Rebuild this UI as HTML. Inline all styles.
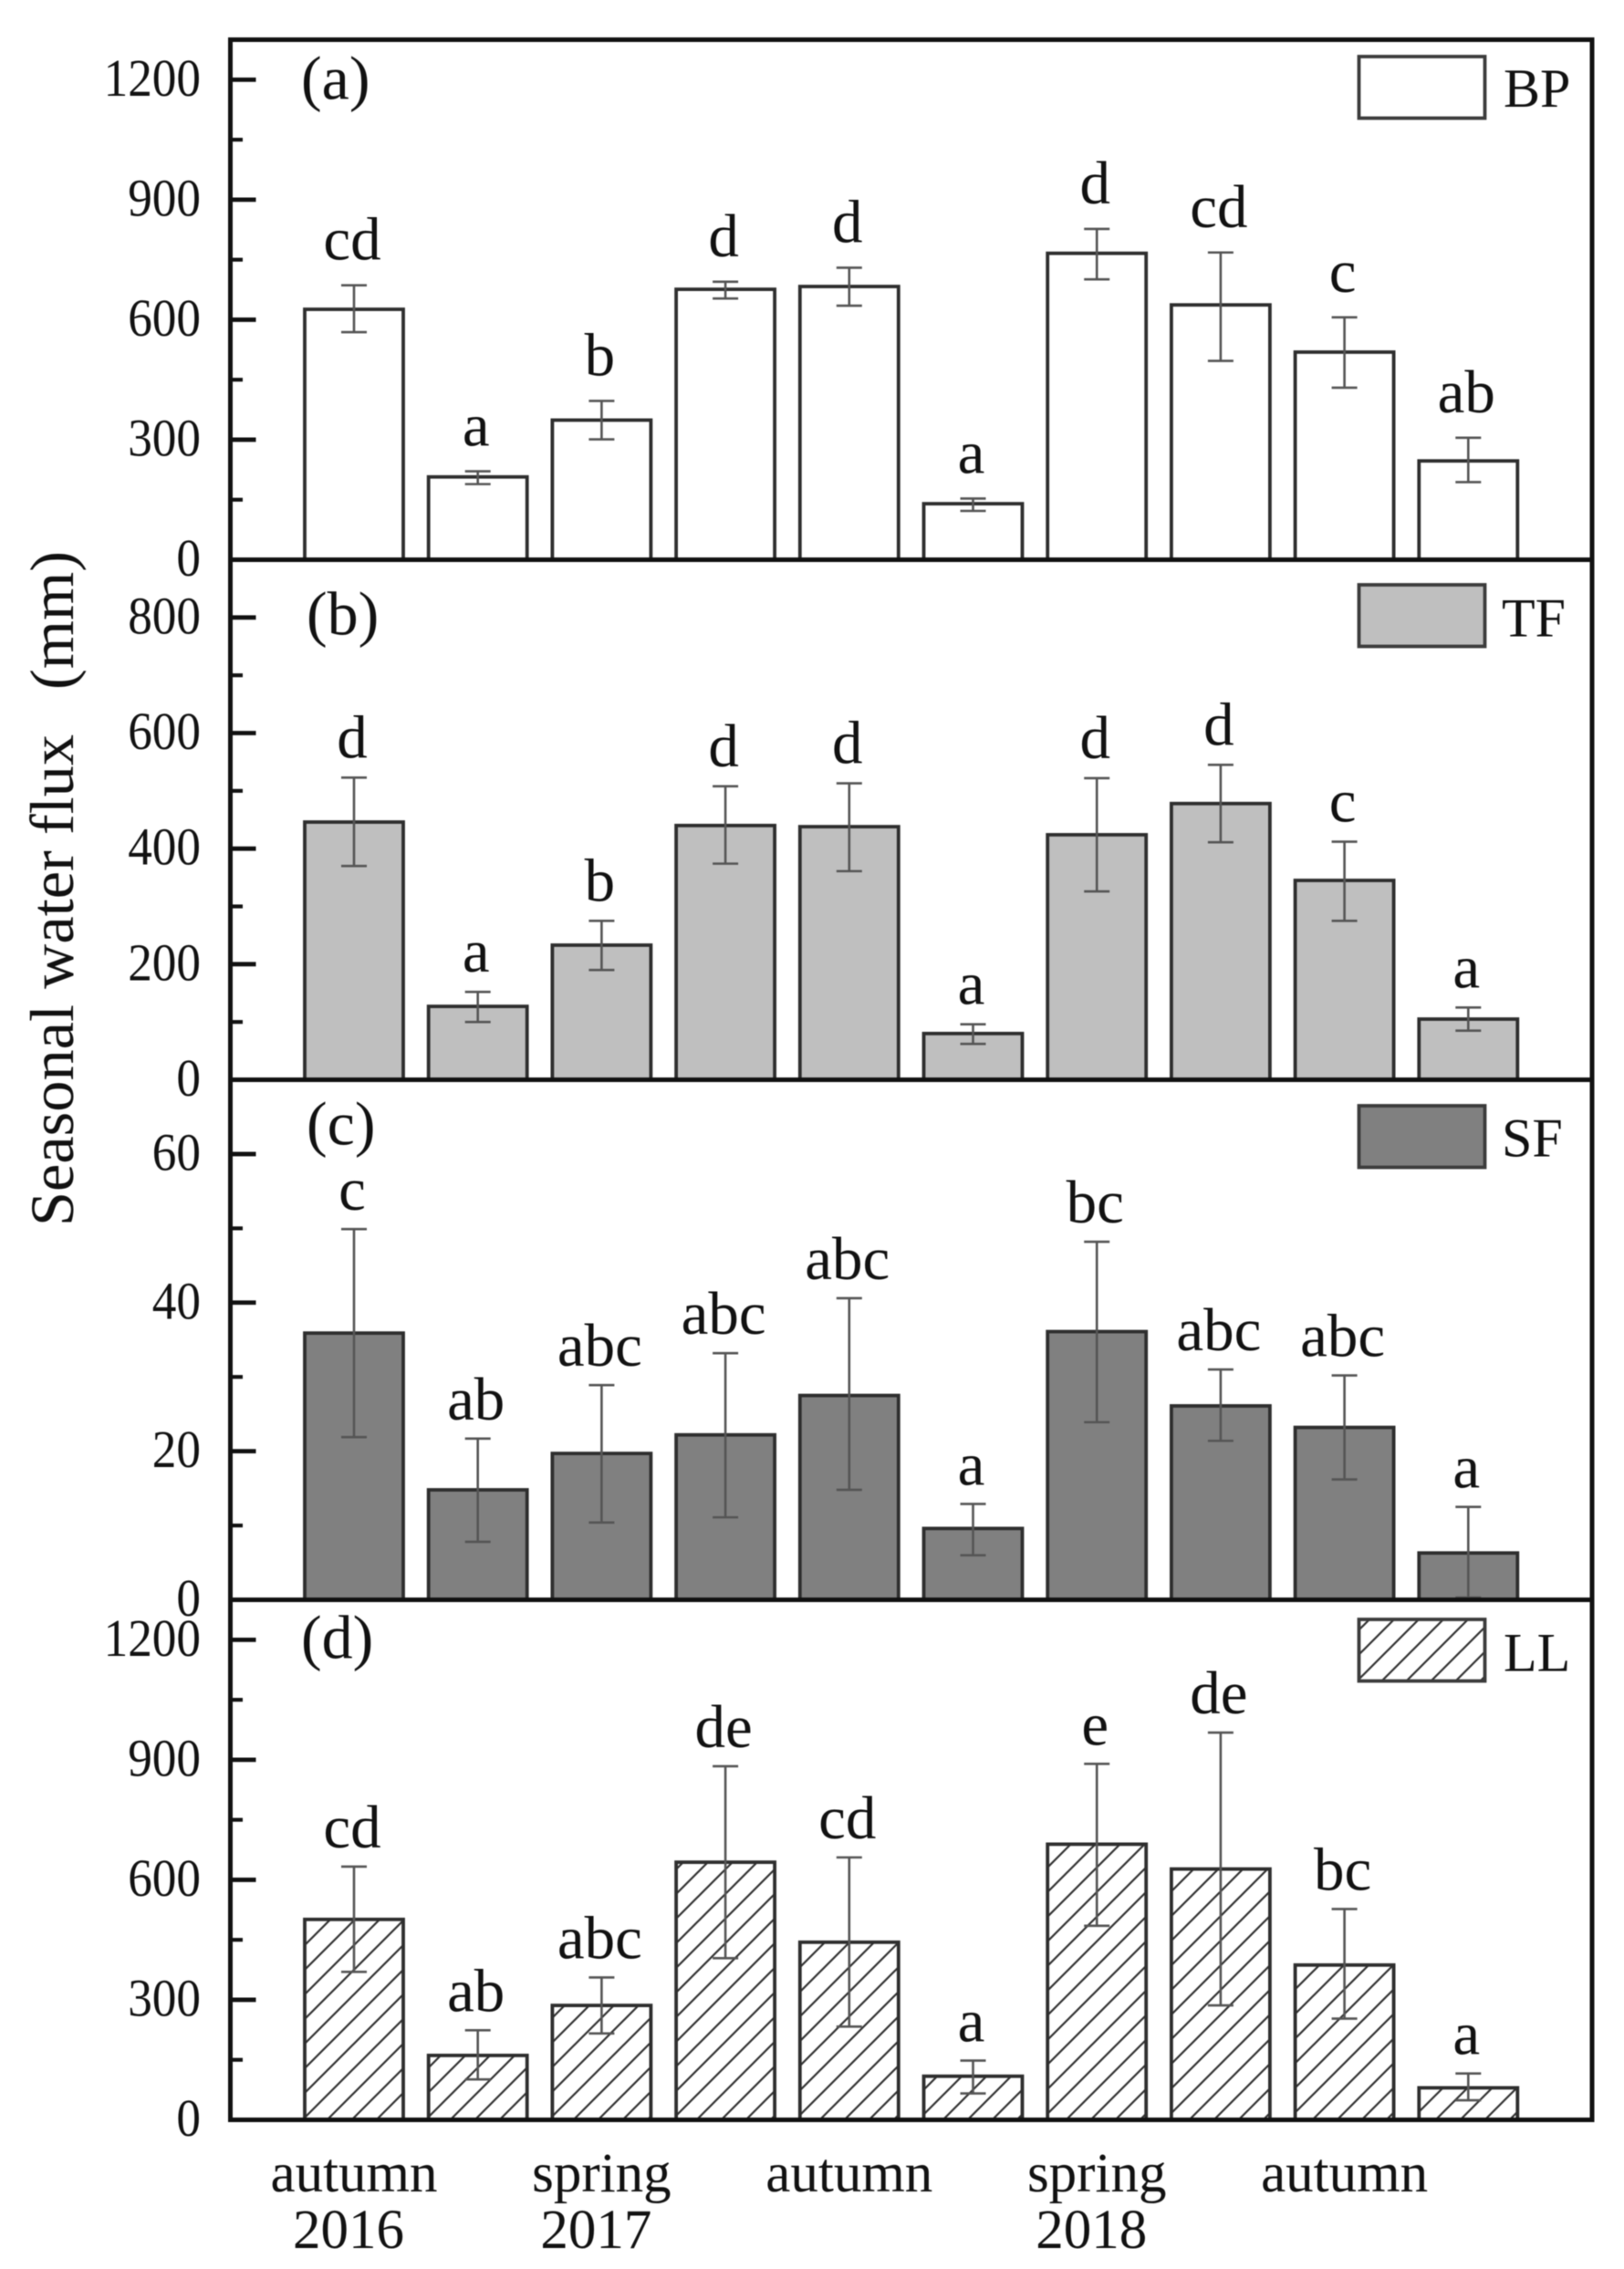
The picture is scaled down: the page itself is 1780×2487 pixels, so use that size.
<!DOCTYPE html>
<html lang="en">
<head>
<meta charset="utf-8">
<title>Seasonal water flux</title>
<style>
html,body{margin:0;padding:0;background:#fff;width:1780px;height:2487px;overflow:hidden}
svg{display:block;filter:blur(0.6px)}
text{font-family:"Liberation Serif","Times New Roman",serif;fill:#111}
</style>
</head>
<body>
<svg id="chart" xmlns="http://www.w3.org/2000/svg" width="1780" height="2487" viewBox="0 0 1780 2487">
  <defs>
    <pattern id="hatch" patternUnits="userSpaceOnUse" x="333" y="0" width="27" height="27">
      <path d="M-3 3L3 -3M0 27L27 0M24 30L30 24" stroke="#333" stroke-width="2.2" fill="none"/>
    </pattern>
  </defs>
  <rect x="0" y="0" width="1780" height="2487" fill="#fff"/>
  <text transform="translate(80,1344) rotate(-90)" font-size="68" textLength="539" lengthAdjust="spacingAndGlyphs">Seasonal water flux</text>
  <text transform="translate(80,756) rotate(-90)" font-size="68" textLength="152" lengthAdjust="spacingAndGlyphs">(mm)</text>
  <g id="plots"></g>
</svg>
<script>
// Categories
const seasonLabels = ['autumn','','spring','','autumn','','spring','','autumn',''];
const yearLabels = ['2016','','2017','','','','2018','','',''];

// Panel (a) BP
const bpValues = [626,207,349,676,683,140,766,637,519,247];
const bpUpper = [686,221,397,695,730,153,827,768,606,305];
const bpLower = [569,189,301,653,635,122,701,497,430,194];
const bpLetters = ['cd','a','b','d','d','a','d','cd','c','ab'];
const bpMajorTicks = [0,300,600,900,1200];
const bpMinorTicks = [150,450,750,1050];

// Panel (b) TF
const tfValues = [446,127,233,440,438,80,424,478,345,105];
const tfUpper = [523,152,275,508,513,96,522,545,412,125];
const tfLower = [370,100,190,374,361,62,326,411,275,85];
const tfLetters = ['d','a','b','d','d','a','d','d','c','a'];
const tfMajorTicks = [0,200,400,600,800];
const tfMinorTicks = [100,300,500,700];

// Panel (c) SF
const sfValues = [35.9,14.8,19.7,22.2,27.5,9.6,36.1,26.1,23.2,6.3];
const sfUpper = [49.9,21.7,28.9,33.2,40.6,12.9,48.2,31.0,30.2,12.5];
const sfLower = [21.9,7.8,10.4,11.1,14.8,6.0,23.9,21.4,16.2,0.3];
const sfLetters = ['c','ab','abc','abc','abc','a','bc','abc','abc','a'];
const sfMajorTicks = [0,20,40,60];
const sfMinorTicks = [10,30,50];

// Panel (d) LL
const llValues = [501,161,286,644,444,109,689,627,387,80];
const llUpper = [633,224,356,884,656,148,890,968,527,116];
const llLower = [370,101,216,404,233,66,485,286,253,49];
const llLetters = ['cd','ab','abc','de','cd','a','e','de','bc','a'];
const llMajorTicks = [0,300,600,900,1200];
const llMinorTicks = [150,450,750,1050];

const SVGNS = 'http://www.w3.org/2000/svg';
const plots = document.getElementById('plots');
const LEFT = 252.5, RIGHT = 1745, PANEL_H = 570;
const FIRST_CENTER = 388, PITCH = 135.7, BAR_W = 108, CAP = 14;

const panels = [
  {key:'bp',tag:'(a)',legend:'BP',top:43.5,max:1300,fill:'#ffffff',gap:28,values:bpValues,upper:bpUpper,lower:bpLower,letters:bpLetters,major:bpMajorTicks,minor:bpMinorTicks,tagX:330,tagDy:65,legDy:18.5,textX:1648,textDy:73.5},
  {key:'tf',tag:'(b)',legend:'TF',top:613.5,max:900,fill:'#bfbfbf',gap:22,values:tfValues,upper:tfUpper,lower:tfLower,letters:tfLetters,major:tfMajorTicks,minor:tfMinorTicks,tagX:336,tagDy:82,legDy:27.5,textX:1646,textDy:84},
  {key:'sf',tag:'(c)',legend:'SF',top:1183.5,max:70,fill:'#808080',gap:21,values:sfValues,upper:sfUpper,lower:sfLower,letters:sfLetters,major:sfMajorTicks,minor:sfMinorTicks,tagX:336,tagDy:71,legDy:28.5,textX:1646,textDy:84},
  {key:'ll',tag:'(d)',legend:'LL',top:1753.5,max:1300,fill:'url(#hatch)',gap:21,values:llValues,upper:llUpper,lower:llLower,letters:llLetters,major:llMajorTicks,minor:llMinorTicks,tagX:330,tagDy:64,legDy:21.5,textX:1648,textDy:78}
];

function make(tag, attrs, parent){
  const el = document.createElementNS(SVGNS, tag);
  for (const k in attrs) el.setAttribute(k, attrs[k]);
  parent.appendChild(el);
  return el;
}
function xCenter(i){ return FIRST_CENTER + PITCH * i; }
function yPos(p, v){ return p.top + PANEL_H - (v / p.max) * PANEL_H; }

panels.forEach(function(p){
  const g = make('g', {}, plots);
  
  
  const base = p.top + PANEL_H;

  // bars
  p.values.forEach(function(v, i){
    const y = yPos(p, v);
    const bar = make('rect', {x:xCenter(i)-BAR_W/2, y:y, width:BAR_W, height:base-y, fill:p.fill, stroke:'#2e2e2e', 'stroke-width':3.8}, g);
    
    
  });

  // error bars
  p.values.forEach(function(v, i){
    const cx = xCenter(i), yu = yPos(p, p.upper[i]), yl = yPos(p, p.lower[i]);
    const eb = make('path', {d:'M'+(cx-CAP)+' '+yu+'H'+(cx+CAP)+'M'+cx+' '+yu+'V'+yl+'M'+(cx-CAP)+' '+yl+'H'+(cx+CAP), stroke:'#555', 'stroke-width':2.6, fill:'none'}, g);
    
    
  });

  // significance letters
  p.letters.forEach(function(t, i){
    const lab = make('text', {x:xCenter(i)-2, y:yPos(p, p.upper[i]) - p.gap, 'font-size':67, 'text-anchor':'middle'}, g);
    lab.textContent = t;
    
    
  });

  // frame
  const frame = make('rect', {x:LEFT, y:p.top, width:RIGHT-LEFT, height:PANEL_H, fill:'none', stroke:'#111', 'stroke-width':5}, g);
  
  

  // ticks
  p.major.forEach(function(v){
    const y = yPos(p, v);
    const tick = make('line', {x1:LEFT, x2:280.5, y1:y, y2:y, stroke:'#111', 'stroke-width':4.8}, g);
    
    
    const s = String(v);
    const lab = make('text', {x:220, y:y+17.5, 'font-size':58, 'text-anchor':'end', textLength:s.length*26.6, lengthAdjust:'spacingAndGlyphs'}, g);
    lab.textContent = s;
    
    
  });
  p.minor.forEach(function(v){
    const y = yPos(p, v);
    const tick = make('line', {x1:LEFT, x2:266, y1:y, y2:y, stroke:'#111', 'stroke-width':4.2}, g);
    
    
  });

  // panel tag
  const tag = make('text', {x:p.tagX, y:p.top+p.tagDy, 'font-size':68}, g);
  tag.textContent = p.tag;
  
  

  // legend
  const sw = make('rect', {x:1489.5, y:p.top+p.legDy, width:138, height:67.5, fill:p.fill, stroke:'#3c3c3c', 'stroke-width':3.8}, g);
  
  
  const lt = make('text', {x:p.textX, y:p.top+p.textDy, 'font-size':60}, g);
  lt.textContent = p.legend;
  
  
});

// x axis labels
seasonLabels.forEach(function(t, i){
  if (!t) return;
  const el = make('text', {x:xCenter(i), y:2402, 'font-size':61, 'text-anchor':'middle'}, plots);
  el.textContent = t;
  
  
});
yearLabels.forEach(function(t, i){
  if (!t) return;
  const el = make('text', {x:xCenter(i)-6, y:2464, 'font-size':61, 'text-anchor':'middle'}, plots);
  el.textContent = t;
  
  
});
</script>
</body>
</html>
